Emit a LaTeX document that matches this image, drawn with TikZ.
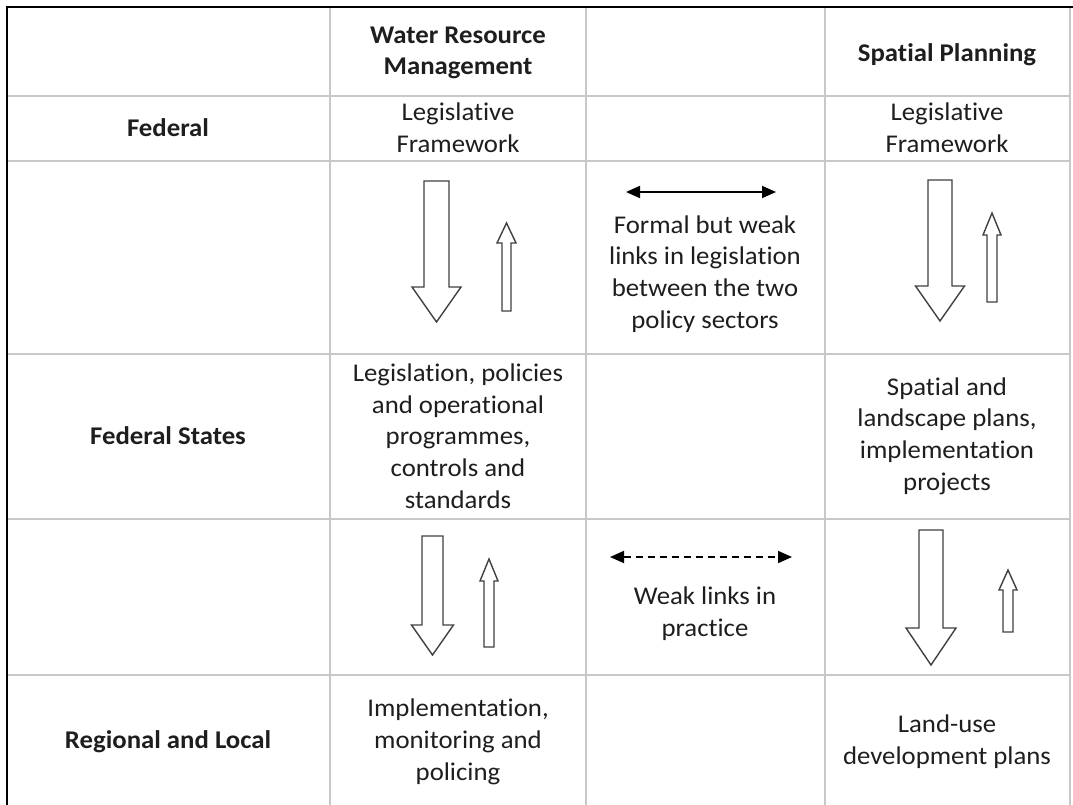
\documentclass[tikz,border=0pt]{standalone}
\usepackage{fontspec}
\setmainfont{Carlito}[Ligatures=NoCommon, FakeStretch=1.05]
\usetikzlibrary{arrows.meta}
\definecolor{gridgray}{HTML}{C8C8C8}
\definecolor{inkgray}{HTML}{1E1E1E}
\tikzset{
  cell/.style={align=center, text=inkgray, inner sep=0pt,
    font=\fontsize{25.5}{31.75}\selectfont},
  head/.style={cell, font=\fontsize{25.5}{31.75}\selectfont\bfseries},
  blockarrow/.style={draw=black!75, line width=1.4pt, fill=white},
  link/.style={line width=1.8pt,
    {Triangle[length=14pt,width=12pt]}-{Triangle[length=14pt,width=12pt]}},
}
\begin{document}
\begin{tikzpicture}[x=1pt, y=-1pt]
  \useasboundingbox (0,0) rectangle (1073,805);
  % table grid
  \foreach \x in {330,586,825,1070}
    \draw[gridgray, line width=1.2pt] (\x,7) -- (\x,805);
  \foreach \y in {96,161,354,519,675}
    \draw[gridgray, line width=1.2pt] (7,\y) -- (1070,\y);
  \draw[line width=2.5pt] (7,805) -- (7,7) -- (1073,7);

  % column and row heads
  \node[head] (wrm) at (458,53) {Water Resource\\Management};
  \node[head] (spatial) at (947,55) {Spatial Planning};
  \node[head] (federal) at (168,128) {Federal};
  \node[head] (states) at (168,436) {Federal States};
  \node[head] (local) at (168,742) {Regional and Local};

  % cells
  \node[cell] (wrmfed) at (458,128) {Legislative\\Framework};
  \node[cell] (spfed) at (947,128) {Legislative\\Framework};
  \node[cell] (wrmstates) at (458,436)
    {Legislation, policies\\and operational\\programmes,\\controls and\\standards};
  \node[cell] (spstates) at (947,436)
    {Spatial and\\landscape plans,\\implementation\\projects};
  \node[cell] (wrmlocal) at (458,742) {Implementation,\\monitoring and\\policing};
  \node[cell] (splocal) at (947,742) {Land-use\\development plans};

  % links between the sectors
  \coordinate (formalL) at (626,192);
  \coordinate (formalR) at (776,192);
  \draw[link] (formalL) -- (formalR);
  \node[cell] (formal) at (705,274)
    {Formal but weak\\links in legislation\\between the two\\policy sectors};
  \coordinate (weakL) at (610,557);
  \coordinate (weakR) at (792,557);
  \draw[link, dash pattern=on 7pt off 5pt] (weakL) -- (weakR);
  \node[cell] (weak) at (705,614) {Weak links in\\practice};

  % downward block arrows
  \foreach \cx/\top/\base/\tip/\sw/\hw in {436.5/181/287/322/25/49,
      940/180/286/321/24/49, 432.5/536/625/655/21/42, 931/530/628/665/24/50}
    \draw[blockarrow] ({\cx-\sw/2},\top) --++ (\sw,0) -- ({\cx+\sw/2},\base)
      -- ({\cx+\hw/2},\base) -- (\cx,\tip) -- ({\cx-\hw/2},\base)
      -- ({\cx-\sw/2},\base) -- cycle;
  % upward block arrows
  \foreach \cx/\bot/\base/\tip/\sw/\hw in {506.5/311/243/223/9/19,
      992/302/235/213/10/18, 489/647/581/559/10/18, 1008/632/590/570/10/18}
    \draw[blockarrow] ({\cx-\sw/2},\bot) --++ (\sw,0) -- ({\cx+\sw/2},\base)
      -- ({\cx+\hw/2},\base) -- (\cx,\tip) -- ({\cx-\hw/2},\base)
      -- ({\cx-\sw/2},\base) -- cycle;
\end{tikzpicture}
\end{document}
